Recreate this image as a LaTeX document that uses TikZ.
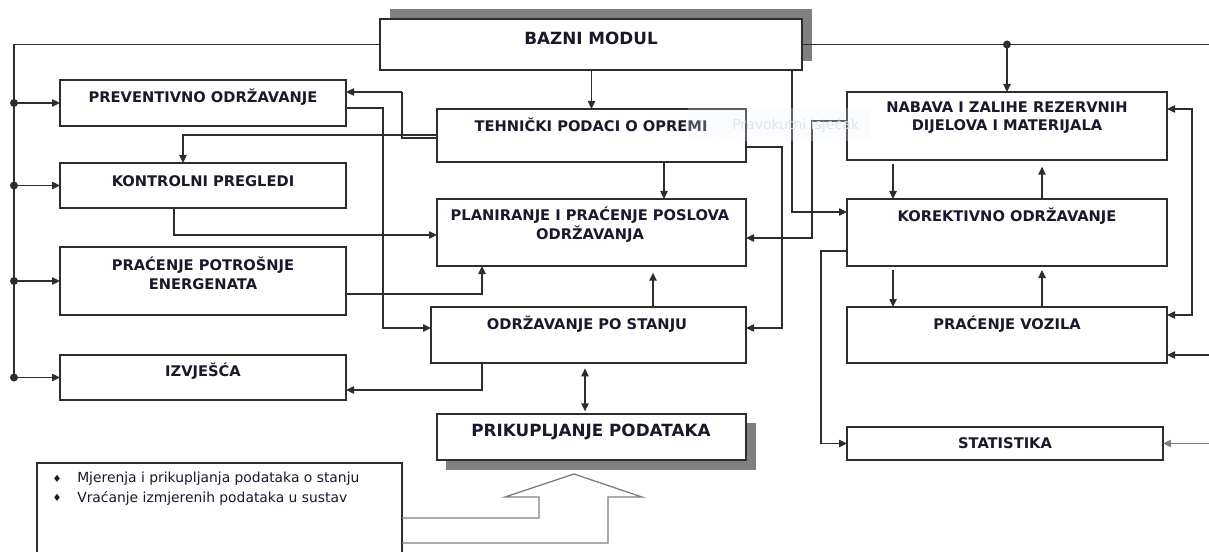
\documentclass[tikz,border=0pt]{standalone}
\usepackage{fontspec}
\setmainfont{DejaVu Sans}
\usetikzlibrary{arrows.meta}
\definecolor{ink}{RGB}{25,25,45}
\definecolor{ln}{RGB}{45,45,45}
\definecolor{shadowgray}{RGB}{128,128,128}
\definecolor{faint}{RGB}{222,228,238}
\definecolor{faintbg}{RGB}{240,245,252}
\tikzset{
  box/.style={draw=ln, line width=1.2pt, fill=white, anchor=north west, inner sep=0pt, outer sep=0pt},
  lbl/.style={font=\bfseries\fontsize{11}{14}\selectfont, text=ink, align=center, inner sep=0pt},
  biglbl/.style={font=\bfseries\fontsize{12.6}{15}\selectfont, text=ink, align=center, inner sep=0pt},
  bultxt/.style={font=\fontsize{10.4}{12}\selectfont, text=ink, anchor=west, inner sep=0pt},
  bulmark/.style={font=\fontsize{7.5}{8}\selectfont, text=ink, inner sep=0pt},
  conn/.style={draw=ln, line width=1pt},
  arr/.style={conn, -{Triangle[length=6pt,width=5.5pt]}},
  arrb/.style={conn, {Triangle[length=6pt,width=5.5pt]}-{Triangle[length=6pt,width=5.5pt]}},
  dot/.style={fill=ln}
}
\newcommand{\bx}[5]{\node[box, minimum width={(#4-#2)*0.75pt}, minimum height={(#5-#3)*0.75pt}] (#1) at (#2,#3) {};}
\begin{document}
\begin{tikzpicture}[x=0.75pt,y=-0.75pt]
\useasboundingbox (0,0) rectangle (1209,552);
% reference coordinates
\coordinate (L) at (14,0);
\coordinate (R) at (1209,0);
% shadows
\fill[shadowgray] (390,9) rectangle (812,61);
\fill[shadowgray] (446,423) rectangle (756,470);
% boxes
\bx{bazni}{380}{19}{802}{70}
\bx{prev}{60}{80}{346}{126}
\bx{kontr}{60}{163}{346}{208}
\bx{energ}{60}{247}{346}{315}
\bx{izv}{60}{355}{346}{400}
\bx{tech}{437}{109}{746}{162}
\bx{plan}{437}{199}{746}{266}
\bx{ops}{431}{307}{746}{363}
\bx{prik}{437}{414}{746}{460}
\bx{nab}{847}{92}{1167}{160}
\bx{kor}{847}{199}{1167}{266}
\bx{voz}{847}{307}{1167}{363}
\bx{stat}{847}{427}{1163}{460}
\bx{bul}{37}{463}{402}{575}
% labels
\node[biglbl] (baznit) at (591,38) {BAZNI MODUL};
\node[lbl] (prevt) at (203,97) {PREVENTIVNO ODRŽAVANJE};
\node[lbl] (kontrt) at (203,181) {KONTROLNI PREGLEDI};
\node[lbl] (energt) at (203,273) {PRAĆENJE POTROŠNJE\\ENERGENATA};
\node[lbl] (izvt) at (203,371) {IZVJEŠĆA};
\node[lbl] (techt) at (591,125) {TEHNIČKI PODACI O OPREMI};
\node[lbl] (plant) at (590,225) {PLANIRANJE I PRAĆENJE POSLOVA\\ODRŽAVANJA};
\node[lbl] (opst) at (587,324) {ODRŽAVANJE PO STANJU};
\node[biglbl] (prikt) at (591,432) {PRIKUPLJANJE PODATAKA};
\node[lbl] (nabt) at (1007,117.5) {NABAVA I ZALIHE REZERVNIH\\DIJELOVA I MATERIJALA};
\node[lbl] (kort) at (1007,216.5) {KOREKTIVNO ODRŽAVANJE};
\node[lbl] (vozt) at (1007,324) {PRAĆENJE VOZILA};
\node[lbl] (statt) at (1005,443) {STATISTIKA};
% bullet list
\node[bulmark] (b1) at (57,479) {♦};
\node[bulmark] (b2) at (57,498) {♦};
\node[bultxt] (l1) at (77,479) {Mjerenja i prikupljanja podataka o stanju};
\node[bultxt] (l2) at (77,498) {Vraćanje izmjerenih podataka u sustav};
% hollow block arrow
\draw[shadowgray, line width=1pt, line join=miter]
  (bul.east |- 0,518) -- (539,518) -- (539,497) -- (505,497) -- (574,474)
  -- (642,497) -- (608,497) -- (608,543) -- (bul.east |- 0,543);
% left bus
\draw[conn] (bazni.west) -- (bazni.west -| L) -- (izv.west -| L);
\foreach \b in {prev,kontr,energ,izv}{
  \fill[dot] (\b.west -| L) circle (3pt);
  \draw[arr] (\b.west -| L) -- (\b.west);
}
% right top bus
\draw[conn] (bazni.east) -- (bazni.east -| R);
\fill[dot] (nab.north |- bazni.east) circle (3pt);
\draw[arr] (nab.north |- bazni.east) -- (nab.north);
% central connectors
\draw[arr] (bazni.south -| tech.north) -- (tech.north);
\draw[arr] (tech.south -| 664,0) -- (plan.north -| 664,0);
\draw[arr, shorten >=5pt] (ops.north -| 653,0) -- (plan.south -| 653,0);
\draw[arr] (energ.east |- 0,294) -| (plan.south -| 482,0);
\draw[arr] (kontr.south -| 174,0) |- (plan.west |- 0,235);
\draw[arr] (prev.east |- 0,108) -- (383,108) |- (ops.west |- 0,328);
\draw[conn] (tech.west |- 0,138) -- (402,138) -- (402,92);
\draw[arr] (402,92) -- (prev.east |- 0,92);
\draw[arr] (tech.west |- 0,135) -| (kontr.north -| 183,0);
\draw[arr] (tech.east |- 0,147) -- (782,147) |- (ops.east |- 0,328);
\draw[arrb, shorten <=4pt, shorten >=2pt] (ops.south -| 585,0) -- (prik.north -| 585,0);
\draw[arr] (ops.south -| 482,0) |- (izv.east |- 0,390);
% right column connectors
\draw[arr] (bazni.south -| 792,0) |- (kor.west |- 0,212);
\draw[arr] (nab.west |- 0,121) -- (812,121) |- (plan.east |- 0,238);
\draw[arr, shorten <=3pt] (nab.south -| 893,0) -- (kor.north -| 893,0);
\draw[arr, shorten >=5pt] (kor.north -| 1042,0) -- (nab.south -| 1042,0);
\draw[arr, shorten <=3pt] (kor.south -| 893,0) -- (voz.north -| 893,0);
\draw[arr, shorten >=3pt] (voz.north -| 1042,0) -- (kor.south -| 1042,0);
\draw[arr] (kor.west |- 0,251) -- (821,251) |- (stat.west);
\draw[arrb] (nab.east |- 0,109) -- (1192,109) |- (voz.east |- 0,315);
\draw[arr] (R |- 0,355) -- (voz.east |- 0,355);
\draw[arr, draw=shadowgray] (R |- stat.east) -- (stat.east);
% faint screen artefact overlay
\fill[faintbg, opacity=0.25] (688,108) rectangle (870,141);
\node[font=\fontsize{10.5}{12}\selectfont, text=faint, anchor=west, inner sep=0pt] (snip) at (732,125) {Pravokutni isječak};
\end{tikzpicture}
\end{document}
